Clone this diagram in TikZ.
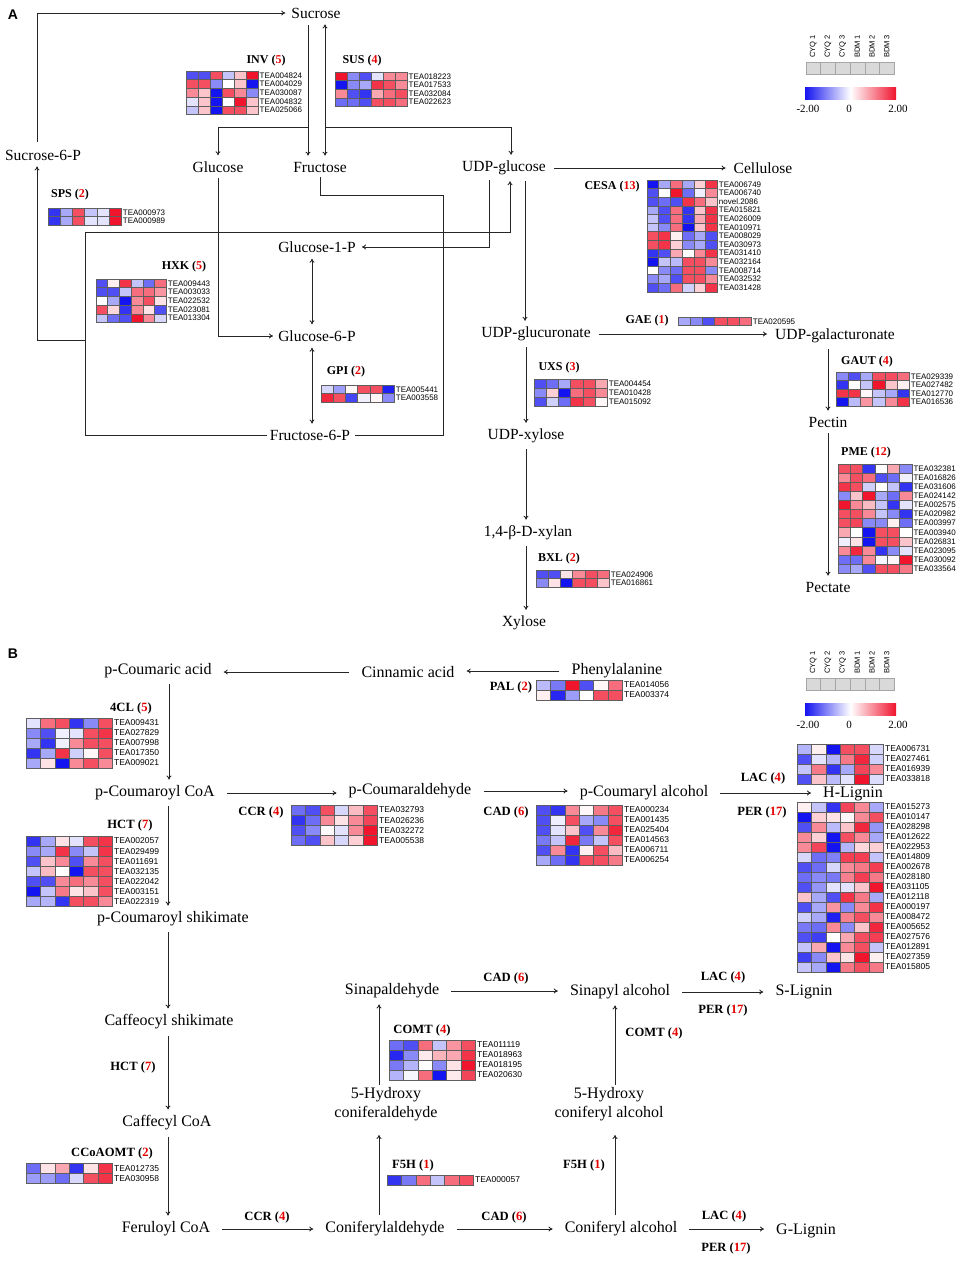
\documentclass[tikz,border=0pt]{standalone}
\usepackage{fontspec}
\setmainfont{Liberation Serif}
\setsansfont{Liberation Sans}
\usetikzlibrary{arrows.meta}
\tikzset{>={To[length=4pt,width=5pt]}}
\usepackage{xcolor}
\definecolor{cneg}{RGB}{20,20,240}
\definecolor{cpos}{RGB}{240,20,45}
\definecolor{cellline}{RGB}{95,95,95}
\colorlet{nred}{red!90!black}
\colorlet{lncol}{black!85}
\tikzstyle{met}=[font=\fontsize{15.5}{17}\selectfont,inner sep=2pt]
\tikzstyle{metB}=[font=\fontsize{16}{19}\selectfont,inner sep=2pt,align=center]
\tikzstyle{enz}=[font=\fontsize{12}{13}\selectfont\bfseries,inner sep=1pt]
\tikzstyle{enzB}=[font=\fontsize{12.6}{14}\selectfont\bfseries,inner sep=1pt]
\tikzstyle{gene}=[anchor=west,inner sep=1.5pt,font=\fontsize{8}{8}\selectfont\sffamily]
\tikzstyle{ln}=[line width=0.9pt,lncol]
\tikzstyle{rx}=[ln,->,shorten <=4pt,shorten >=4pt]
\tikzstyle{rxa}=[ln,->,shorten <=6pt,shorten >=6pt]
\tikzstyle{rxh}=[ln,->,shorten <=10pt,shorten >=10pt]
\tikzstyle{cellsA}=[x=12pt,y=-8.7pt]
\tikzstyle{cellsB}=[x=14.4pt,y=-10pt,gene/.append style={font=\fontsize{8.5}{9}\selectfont\sffamily}]
\tikzstyle{legtxt}=[rotate=90,anchor=west,inner sep=1pt,font=\fontsize{7.5}{8}\selectfont\sffamily]
\tikzstyle{legbox}=[fill=gray!30,draw=gray!70,line width=0.6pt]
\tikzstyle{legnum}=[font=\fontsize{11}{12}\selectfont,inner sep=1pt]
\tikzstyle{panel}=[font=\fontsize{14}{15}\selectfont\sffamily\bfseries,inner sep=0pt]
\newcommand{\nred}[1]{\textcolor{nred}{#1}}
% heat map: name, top left corner, cell style, rows id/{values}
\newcommand{\hmap}[4]{%
  \begin{scope}[shift={#2},#3]
    \foreach \gid/\vals [count=\ri] in {#4}{
      \foreach \v [count=\ci] in \vals {
        \pgfmathtruncatemacro\pct{min(100,abs(\v)*25)}
        \ifdim\v pt<0pt \def\hc{cneg}\else\def\hc{cpos}\fi
        \filldraw[draw=cellline,line width=0.5pt,fill=\hc!\pct!white] (\ci-1,\ri-1) rectangle (\ci,\ri);
      }
      \node[gene] (#1-\ri) at (6,\ri-0.5) {\gid};
    }
  \end{scope}}
% colour key: name, top of grey boxes
\newcommand{\hmlegend}[2]{%
  \foreach \s [count=\i] in {CYQ 1,CYQ 2,CYQ 3,BDM 1,BDM 2,BDM 3}{
    \node[legtxt] (#1-\i) at (798.5+14.7*\i,#2-3) {\s};
    \draw[legbox] (791.3+14.7*\i,#2) rectangle ++(14.7,12);
  }
  \shade[left color=cneg,right color=cpos,middle color=white] (805,#2+25) rectangle (896,#2+37);
  \node[legnum] (#1-lo) at (808,#2+47) {-2.00};
  \node[legnum] (#1-mid) at (849,#2+47) {0};
  \node[legnum] (#1-hi) at (898,#2+47) {2.00};
}

\begin{document}
\begin{tikzpicture}[x=1pt,y=-1pt]
  \useasboundingbox (0,0) rectangle (957,1261);

  %%%%%%%% PANEL A %%%%%%%%
  \node[panel] (pA) at (13,15) {A};
  \node[met] (sucrose) at (316,13) {Sucrose};
  \node[met] (suc6p) at (43,155) {Sucrose-6-P};
  \node[met] (glucose) at (218,167) {Glucose};
  \node[met] (fructose) at (320,167) {Fructose};
  \node[met] (udpglc) at (504,168) {UDP-glucose};
  \node[met] (cellulose) at (763,168) {Cellulose};
  \node[met] (glc1p) at (317,247) {Glucose-1-P};
  \node[met] (glc6p) at (317,336) {Glucose-6-P};
  \node[met] (fru6p) at (310,435) {Fructose-6-P};
  \node[met] (udpglcA) at (536,334) {UDP-glucuronate};
  \node[met] (udpgalA) at (835,336) {UDP-galacturonate};
  \node[met] (udpxyl) at (526,436) {UDP-xylose};
  \node[met] (xylan) at (528,533) {1,4-β-D-xylan};
  \node[met] (xylose) at (524,623) {Xylose};
  \node[met] (pectin) at (828,422) {Pectin};
  \node[met] (pectate) at (828,587) {Pectate};

  % connectors
  \draw[ln,->,shorten <=6pt,shorten >=4pt] ([xshift=-6pt]suc6p.north) |- (sucrose.west);
  \draw[ln,->,shorten <=1pt,shorten >=4pt] (fru6p.west) -| (85,340) -| ([xshift=-6pt]suc6p.south);
  \draw[ln,->,shorten >=4pt] (85,340) |- (510,232) -- ([xshift=6pt]udpglc.south);
  \draw[ln,shorten <=3pt,shorten >=3pt] (fructose.south) |- (443,195) |- (fru6p.east);
  \draw[ln,->,shorten <=5pt,shorten >=4pt] (sucrose.south -| 308,0) -- (fructose.north -| 308,0);
  \draw[ln,->,shorten >=4pt] (308,127) -| (glucose.north);
  \draw[ln,<->,shorten <=4pt,shorten >=4pt] (sucrose.south -| 325,0) -- (fructose.north -| 325,0);
  \draw[ln,->,shorten >=4pt] (325,127) -| ([xshift=7pt]udpglc.north);
  \draw[ln,->,shorten <=3pt,shorten >=3pt] (glucose.south) |- (glc6p.west);
  \draw[ln,<->,shorten <=4pt,shorten >=4pt] (glc1p.south -| 312,0) -- (glc6p.north -| 312,0);
  \draw[ln,<->,shorten <=4pt,shorten >=4pt] (glc6p.south -| 312,0) -- (fru6p.north -| 312,0);
  \draw[ln,->,shorten <=3pt,shorten >=4pt] (udpglc.south -| 489,0) |- (glc1p.east);
  \draw[rxa] (udpglc) -- (cellulose);
  \draw[rx] (udpglc.south -| 525,0) -- (udpglcA.north -| 525,0);
  \draw[rxa] (udpglcA.east) -- (udpglcA.east -| udpgalA.west);
  \draw[rx] (udpglcA.south -| udpxyl) -- (udpxyl.north);
  \draw[rx] (udpxyl.south) -- (udpxyl.south |- xylan.north);
  \draw[rx] (xylan.south -| udpxyl.south) -- (xylose.north -| udpxyl.south);
  \draw[rx] (udpgalA.south -| pectin) -- (pectin.north);
  \draw[rx] (pectin) -- (pectate);

  % enzymes
  \node[enz] (inv) at (266,61) {INV (\nred{5})};
  \node[enz] (sus) at (362,61) {SUS (\nred{4})};
  \node[enz] (sps) at (70,195) {SPS (\nred{2})};
  \node[enz] (hxk) at (184,267) {HXK (\nred{5})};
  \node[enz] (gpi) at (346,372) {GPI (\nred{2})};
  \node[enz] (cesa) at (612,187) {CESA (\nred{13})};
  \node[enz] (gae) at (647,321) {GAE (\nred{1})};
  \node[enz] (uxs) at (559,368) {UXS (\nred{3})};
  \node[enz] (gaut) at (867,362) {GAUT (\nred{4})};
  \node[enz] (pme) at (866,453) {PME (\nred{12})};
  \node[enz] (bxl) at (559,559) {BXL (\nred{2})};

  % heat maps
  \hmap{invh}{(186,71)}{cellsA}{TEA004824/{-3,-3,3,-1,1,4},TEA004029/{3,3,-2,0,1,-4},TEA030087/{2,1,-4,3,2,-2},TEA004832/{-0.5,1,-4,0,4,1},TEA025066/{-1,1,-4,3,3,1}}
  \hmap{sush}{(335,72)}{cellsA,y=-8.6pt}{TEA018223/{4,-2,-3,-0.5,2,2},TEA017533/{-4,-2,-1.5,3.5,3,2},TEA032084/{2,-3,-3.5,1.5,2.5,3},TEA022623/{-2.5,-2.5,-3,3,3,2.5}}
  \hmap{spsh}{(48,208)}{cellsA,x=12.2pt}{TEA000973/{-3.5,-1.5,3,-1,-0.5,4},TEA000989/{-3.5,-1.5,3,-0.5,-0.5,4}}
  \hmap{hxkh}{(96,279)}{cellsA,x=11.7pt}{TEA009443/{-3,0.3,3.5,-1,-2.5,2.5},TEA003033/{-3,-3,-1,2.5,2.5,1.8},TEA022532/{0,-1.5,-4,2,3,0.5},TEA023081/{3,0.7,-3.5,2,0.5,-3},TEA013304/{-1,-2.5,-3,4,2,-0.7}}
  \hmap{gpih}{(321,385)}{cellsA,x=12.2pt}{TEA005441/{-0.7,-1.7,0.2,3,3,-3.8},TEA003558/{3.7,3,-3.2,-0.3,0.2,-2}}
  \hmap{cesah}{(647,180)}{cellsA,x=11.7pt,y=-8.6pt}{TEA006749/{-4,-1.5,2.5,-1.5,0.8,3.5},TEA006740/{-3,0,4,-2.5,-0.3,2},novel.2086/{-3,-2.5,-3,3.5,2.5,1},TEA015821/{-1.5,-3,2.5,-3.5,1,3.5},TEA026009/{-1,-3,2.5,-3.5,1.5,3.5},TEA010971/{-1,-2,2.5,-4,1,3.5},TEA008029/{3,3.5,0.3,-2.5,-1.5,-3},TEA030973/{3,3.5,0.8,-2,-1.5,-3},TEA031410/{-3.5,-3,1.5,0,2,3.5},TEA032164/{-4,-1,-1.2,3,3,2},TEA008714/{0,-2,-2.5,3,3,-2},TEA032532/{-2,-1.5,-3,3,3,2},TEA031428/{-3,-2.5,2.5,-0.8,0.8,3.5}}
  \hmap{gaeh}{(678,317)}{cellsA,x=12.2pt}{TEA020595/{-1.5,-2,-3,3,3,2.5}}
  \hmap{uxsh}{(534,379)}{cellsA,x=12.2pt,y=-9pt}{TEA004454/{-3,-2.5,-1.5,3,3,1.5},TEA010428/{-2,0.8,-4,2.5,3,2},TEA015092/{-3,-0.8,-2.5,3.5,3,0.2}}
  \hmap{gauth}{(836,372)}{cellsA,x=12.2pt,y=-8.5pt}{TEA029339/{-2,-3,-1.5,3,3,2.5},TEA027482/{-3.5,0,-1,4,1,0.3},TEA012770/{3.5,3.5,0.2,-1,-1.5,-3.5},TEA016536/{-4,-1.2,1.8,-1,2,3.5}}
  \hmap{pmeh}{(838,464)}{cellsA,x=12.3pt,y=-9.1pt}{TEA032381/{3,3,-3.5,0,1.5,-2},TEA016826/{2,3,2.5,-3,-2.5,-0.3},TEA031606/{3.5,3,-0.8,0,-1,-3.5},TEA024142/{-2,1,4,-1.5,-2.5,2},TEA002575/{4,2,1.2,-1,-3.5,-0.5},TEA020982/{3,3,2,-1,-2,-3.5},TEA003997/{3,3.2,-2,-2,0.3,-2.5},TEA003940/{1.5,0,-4,3,3,0},TEA026831/{-0.3,0.5,-4,3,3,1},TEA023095/{2,3.7,2,-3.5,-2,-0.5},TEA030092/{-2.5,-2.5,2,-0.2,0.2,4},TEA033564/{-2,-1.5,-3,3,3,2.3}}
  \hmap{bxlh}{(536,570)}{cellsA,x=12.2pt,y=-8.5pt}{TEA024906/{-3,-3,0.5,2,3,2.5},TEA016861/{-2,0.5,-4,3,3,1}}

  \hmlegend{legA}{62}

  %%%%%%%% PANEL B %%%%%%%%
  \node[panel] (pB) at (13,654) {B};
  \node[metB] (pcoum) at (158,671) {p-Coumaric acid};
  \node[metB] (cinn) at (408,672) {Cinnamic acid};
  \node[metB] (phe) at (617,671) {Phenylalanine};
  \node[metB] (pcoa) at (155,793) {p-Coumaroyl CoA};
  \node[metB] (pcald) at (410,791) {p-Coumaraldehyde};
  \node[metB] (pcalc) at (644,793) {p-Coumaryl alcohol};
  \node[metB] (hlig) at (853,794) {H-Lignin};
  \node[metB] (pshik) at (173,919) {p-Coumaroyl shikimate};
  \node[metB] (cshik) at (169,1022) {Caffeocyl shikimate};
  \node[metB] (ccoa) at (167,1123) {Caffecyl CoA};
  \node[metB] (fcoa) at (166,1229) {Feruloyl CoA};
  \node[metB] (conald) at (385,1229) {Coniferylaldehyde};
  \node[metB] (conalc) at (621,1229) {Coniferyl alcohol};
  \node[metB] (glig) at (806,1231) {G-Lignin};
  \node[metB] (hconald) at (386,1104) {5-Hydroxy\\coniferaldehyde};
  \node[metB] (hconalc) at (609,1104) {5-Hydroxy\\coniferyl alcohol};
  \node[metB] (sinald) at (392,991) {Sinapaldehyde};
  \node[metB] (sinalc) at (620,992) {Sinapyl alcohol};
  \node[metB] (slig) at (804,992) {S-Lignin};

  % connectors
  \draw[rxh] (phe.west) -- (phe.west -| cinn.east);
  \draw[rxh] (cinn.west) -- (cinn.west -| pcoum.east);
  \draw[rx] (pcoum.south -| 169,0) -- (pcoa.north -| 169,0);
  \draw[rxh] (pcoa.east) -- (pcoa.east -| pcald.west);
  \draw[rxh] (pcald.east) -- (pcald.east -| pcalc.west);
  \draw[rxh] (pcalc.east) -- (pcalc.east -| hlig.west);
  \draw[rx] (pcoa.south -| 168,0) -- (pshik.north -| 168,0);
  \draw[rx] (pshik.south -| 168,0) -- (cshik.north -| 168,0);
  \draw[rx] (cshik.south -| 168,0) -- (ccoa.north -| 168,0);
  \draw[rx] (ccoa.south -| 168,0) -- (fcoa.north -| 168,0);
  \draw[rxh] (fcoa.east) -- (fcoa.east -| conald.west);
  \draw[rxh] (conald.east) -- (conald.east -| conalc.west);
  \draw[rxh] (conalc.east) -- (conalc.east -| glig.west);
  \draw[rx,shorten >=12pt] (conald.north -| 379,0) -- (hconald.south -| 379,0);
  \draw[rx,shorten <=0pt] (hconald.north -| 379,0) -- (sinald.south -| 379,0);
  \draw[rx,shorten >=12pt] (conalc.north -| 615,0) -- (hconalc.south -| 615,0);
  \draw[rx,shorten <=0pt] (hconalc.north -| 615,0) -- (sinalc.south -| 615,0);
  \draw[rxh] (sinald.east) -- (sinald.east -| sinalc.west);
  \draw[rxh] (sinalc.east) -- (sinalc.east -| slig.west);

  % enzymes
  \node[enzB] (pal) at (511,687) {PAL (\nred{2})};
  \node[enzB] (fcl) at (131,708) {4CL (\nred{5})};
  \node[enzB] (ccr1) at (261,812) {CCR (\nred{4})};
  \node[enzB] (hct1) at (130,825) {HCT (\nred{7})};
  \node[enzB] (cad1) at (506,812) {CAD (\nred{6})};
  \node[enzB] (lac1) at (763,778) {LAC (\nred{4})};
  \node[enzB] (per1) at (762,812) {PER (\nred{17})};
  \node[enzB] (hct2) at (133,1067) {HCT (\nred{7})};
  \node[enzB] (ccoaomt) at (112,1153) {CCoAOMT (\nred{2})};
  \node[enzB] (ccr2) at (267,1217) {CCR (\nred{4})};
  \node[enzB] (cad2) at (504,1217) {CAD (\nred{6})};
  \node[enzB] (f5h1) at (413,1165) {F5H (\nred{1})};
  \node[enzB] (f5h2) at (584,1165) {F5H (\nred{1})};
  \node[enzB] (comt1) at (422,1030) {COMT (\nred{4})};
  \node[enzB] (comt2) at (654,1033) {COMT (\nred{4})};
  \node[enzB] (cad3) at (506,978) {CAD (\nred{6})};
  \node[enzB] (lac2) at (723,977) {LAC (\nred{4})};
  \node[enzB] (per2) at (723,1010) {PER (\nred{17})};
  \node[enzB] (lac3) at (724,1216) {LAC (\nred{4})};
  \node[enzB] (per3) at (726,1248) {PER (\nred{17})};

  % heat maps
  \hmap{palh}{(536,680)}{cellsB}{TEA014056/{-1.2,-2.3,4,-3,0.2,2.5},TEA003374/{0.3,-3.7,-1.7,0,3,3}}
  \hmap{fclh}{(26,718)}{cellsB}{TEA009431/{-0.5,2.5,3,-3.5,-2,3},TEA027829/{-2,-3,-0.3,-0.5,3,3.5},TEA007998/{-1.5,-3.5,-0.3,2,3,3},TEA017350/{-3.5,-1.5,3.5,-0.8,0.2,3},TEA009021/{-1.5,0.5,-4,2,3,2}}
  \hmap{hcth}{(26,836)}{cellsB,y=-10.1pt}{TEA002057/{-3.5,-1.5,0.5,-0.5,3,3.5},TEA029499/{-2,-1.5,3.5,-2,-1,3.5},TEA011691/{-3,1,2,-3,2,3},TEA032135/{-1,1.2,0,-4,3,3},TEA022042/{-3,-3,2,2.5,2,3},TEA003151/{-4,-1,2.3,0.5,1,3},TEA022319/{-1.5,-1.3,-3.5,3,3,2}}
  \hmap{ccrh}{(291,805)}{cellsB,y=-10.1pt}{TEA032793/{-2.5,-3,3,-0.7,1.2,3},TEA026236/{-3.5,-2.5,2,0.5,2,3.2},TEA032272/{-3,-2,0.1,-0.5,2,4},TEA005538/{-2.5,-3,1,-0.7,0.8,4}}
  \hmap{cadh}{(536,805)}{cellsB}{TEA000234/{-3,-3.5,2,0.2,2.3,3},TEA001435/{-3,-0.3,3,-1.5,-2,3},TEA025404/{-3,-0.5,1,-3,2,3.7},TEA014563/{-2.3,-1,3.7,-2.3,-1,3},TEA006711/{-3,2,-3.5,0.3,3,1.2},TEA006254/{-1.5,-2.5,-3.5,3,3,2.3}}
  \hmap{lach}{(797,744)}{cellsB}{TEA006731/{-1.3,0.3,-4,3,3,-0.7},TEA027461/{-3,-0.5,-1.3,2.3,3.7,-0.8},TEA016939/{-1,2.3,-3.5,-1.5,3.2,2},TEA033818/{-3,1,-1.2,-0.5,4,-0.6}}
  \hmap{perh}{(797,802)}{cellsB}{TEA015273/{0.3,-1,-3.5,3.2,2,-1.5},TEA010147/{-4,0.8,0.5,0.2,2,3},TEA028298/{-3,2,-1.2,1,3.7,-1.8},TEA012622/{2,0.8,-4,3,2,-1.5},TEA022953/{2,3.2,-4,-1.3,0.7,0.8},TEA014809/{-0.7,-2.5,-2.2,3.3,3.3,-1},TEA002678/{-3,-2.5,-0.7,2,2.3,3.3},TEA028180/{-2.5,-2,-2.3,2.2,3.3,2.3},TEA031105/{-3,-1.8,-0.5,-0.5,1,4},TEA012118/{1,-1.5,-3,3.5,2.3,-1.5},TEA000197/{-3,-1.5,1.8,-2,2,3.5},TEA008472/{-0.8,-1.5,-3.8,2.2,3,2},TEA005652/{-2.3,-2.5,2,-2,1,3.7},TEA027576/{-3,-3.3,0,1.5,3,3.3},TEA012891/{-1,1.5,-4,2,3,-1},TEA027359/{-3.3,-2,1,0.5,4,0.3},TEA015805/{-1,-1.5,-4,2.3,3,2.3}}
  \hmap{comth}{(389,1040)}{cellsB}{TEA011119/{-2.5,-3,2.5,-1,1.8,3},TEA018963/{-3.7,-2,0.4,1.3,1.5,3.5},TEA018195/{-2.3,-1.3,0,-2,0.5,4},TEA020630/{-1.3,-0.2,2.5,-4,0.4,3.2}}
  \hmap{f5hh}{(387,1175)}{cellsB}{TEA000057/{-3.5,-2.3,2.5,-1,2.5,3}}
  \hmap{ccoaomth}{(26,1163)}{cellsB,y=-10.3pt}{TEA012735/{-2.5,0.5,1.5,-3.5,0.5,3.5},TEA030958/{-1.7,-1.7,-2.5,-0.7,3,3.5}}

  \hmlegend{legB}{678}
\end{tikzpicture}
\end{document}
